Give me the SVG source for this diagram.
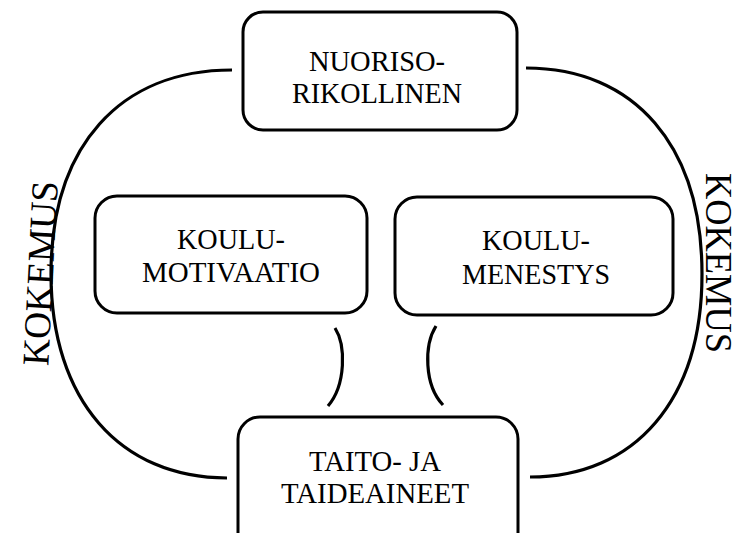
<svg xmlns="http://www.w3.org/2000/svg" width="742" height="533" viewBox="0 0 742 533">
<style>
.box{fill:#fff;stroke:#000;stroke-width:3}
.arc{fill:none;stroke:#000;stroke-width:3.2}
.t{font-family:"Liberation Serif","Times New Roman",serif;font-size:30px;fill:#000;text-anchor:middle}
.k{font-family:"Liberation Serif","Times New Roman",serif;font-size:38px;fill:#000;text-anchor:middle}
</style>
<rect width="742" height="533" fill="#fff"/>
<g id="connectors">
<path class="arc" d="M232,70 C120,70 51,146 51,274 C51,400 120,478 227,478"/>
<path class="arc" d="M526,68 C635,68 702,146 702,274 C702,400 635,477 530,477"/>
<path class="arc" d="M335,328 C346,345 346,385 328,406"/>
<path class="arc" d="M436,326 C424,345 424,385 443,405"/>
</g>
<g id="nuorisorikollinen">
<rect class="box" x="243" y="12" width="274" height="118" rx="20"/>
<text class="t" x="377" y="71" textLength="136" lengthAdjust="spacingAndGlyphs">NUORISO-</text>
<text class="t" x="377" y="103" textLength="170" lengthAdjust="spacingAndGlyphs">RIKOLLINEN</text>
</g>
<g id="koulumotivaatio">
<rect class="box" x="95" y="196" width="272" height="117" rx="22"/>
<text class="t" x="231" y="249" textLength="108" lengthAdjust="spacingAndGlyphs">KOULU-</text>
<text class="t" x="231" y="282" textLength="178" lengthAdjust="spacingAndGlyphs">MOTIVAATIO</text>
</g>
<g id="koulumenestys">
<rect class="box" x="395" y="197" width="278" height="118" rx="22"/>
<text class="t" x="536" y="250" textLength="108" lengthAdjust="spacingAndGlyphs">KOULU-</text>
<text class="t" x="536" y="284" textLength="148" lengthAdjust="spacingAndGlyphs">MENESTYS</text>
</g>
<g id="taitojataideaineet">
<rect class="box" x="238" y="417" width="280" height="140" rx="22"/>
<text class="t" x="375" y="471" textLength="132" lengthAdjust="spacingAndGlyphs">TAITO- JA</text>
<text class="t" x="375" y="503" textLength="188" lengthAdjust="spacingAndGlyphs">TAIDEAINEET</text>
</g>
<g id="kokemus-left">
<text class="k" transform="translate(53,274) rotate(-87)" textLength="185" lengthAdjust="spacingAndGlyphs">KOKEMUS</text>
</g>
<g id="kokemus-right">
<text class="k" transform="translate(706,263) rotate(90)" textLength="180" lengthAdjust="spacingAndGlyphs">KOKEMUS</text>
</g>
</svg>
